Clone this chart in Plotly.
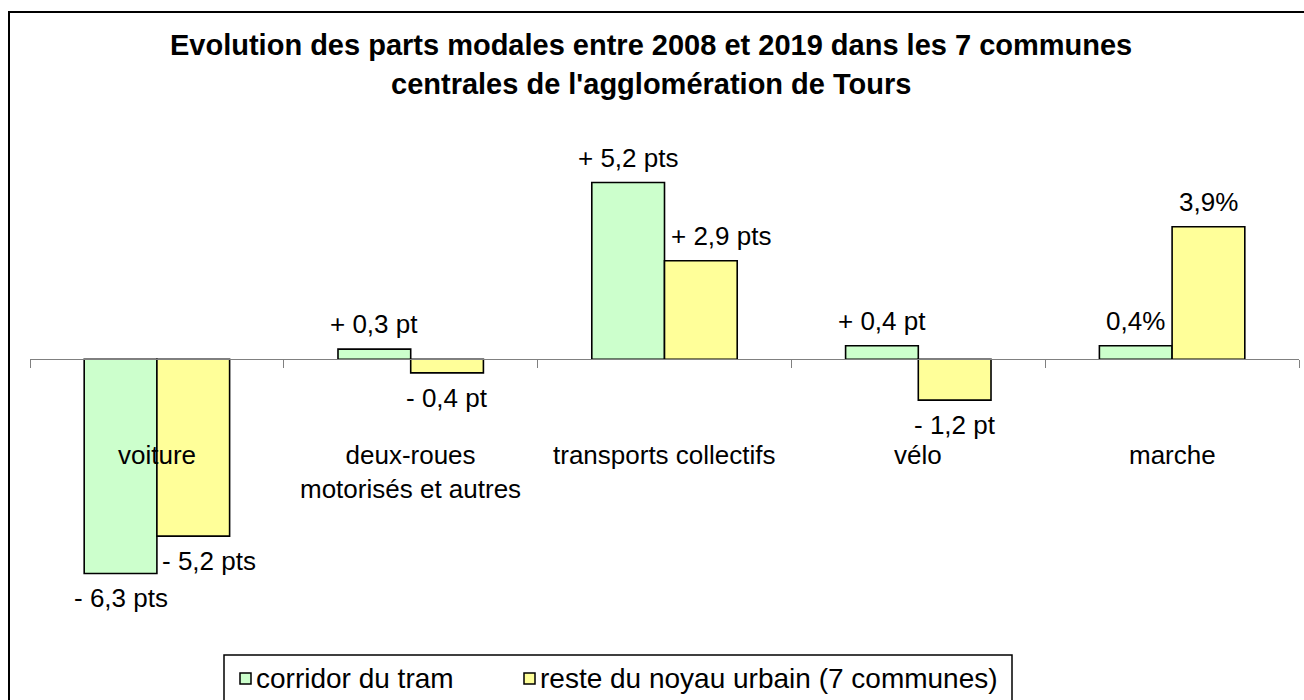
import plotly.graph_objects as go

# Modal share change 2008-2019, in percentage points
categories = ["voiture", "deux-roues<br>motorisés et autres", "transports collectifs", "vélo", "marche"]
series_names = ["corridor du tram", "reste du noyau urbain (7 communes)"]
tram_values = [-6.3, 0.3, 5.2, 0.4, 0.4]
reste_values = [-5.2, -0.4, 2.9, -1.2, 3.9]
tram_labels = ["- 6,3 pts", "+ 0,3 pt", "+ 5,2 pts", "+ 0,4 pt", "0,4%"]
reste_labels = ["- 5,2 pts", "- 0,4 pt", "+ 2,9 pts", "- 1,2 pt", "3,9%"]
title_lines = ["Evolution des parts modales entre 2008 et 2019 dans les 7 communes",
               "centrales de l'agglomération de Tours"]

FONT = "Liberation Sans, Arial, sans-serif"
COLORS = ["#CCFFCC", "#FFFF99"]
W, H = 1304, 700
M_L, M_R, M_T, M_B = 30, 5, 130, 80
Y_MIN, Y_MAX = -7.668, 6.744
BARGAP = 0.427


def px_x(px):
    """pixel column -> paper x"""
    return (px - M_L) / (W - M_L - M_R)


def px_y(py):
    """pixel row -> paper y"""
    return (H - M_B - py) / (H - M_T - M_B)


x_idx = list(range(len(categories)))
fig = go.Figure()
for name, vals, col in zip(series_names, [tram_values, reste_values], COLORS):
    fig.add_trace(go.Bar(
        x=x_idx, y=vals, name=name,
        marker=dict(color=col, line=dict(color="black", width=1.6)),
        hoverinfo="skip", showlegend=False,
    ))

# value labels: above positive bars, below negative ones
half = (1 - BARGAP) / 4
label_nudge = {(1, 0): 16, (1, 2): 20}
annotations = []
for s, (vals, labs) in enumerate([(tram_values, tram_labels), (reste_values, reste_labels)]):
    for i, (v, t) in enumerate(zip(vals, labs)):
        annotations.append(dict(
            x=i + (-half if s == 0 else half), y=v, xref="x", yref="y",
            text=t, showarrow=False,
            yshift=25 if v >= 0 else -25,
            xshift=label_nudge.get((s, i), 0),
            font=dict(family=FONT, size=26, color="black"),
        ))

# category names sit below the zero line
for i, c in enumerate(categories):
    annotations.append(dict(
        x=i, y=-2.31, xref="x", yref="y", yanchor="top",
        text=c, showarrow=False,
        font=dict(family=FONT, size=26, color="black"),
    ))

# two-line bold title
for line, py in zip(title_lines, [45, 84]):
    annotations.append(dict(
        x=px_x(651), y=px_y(py), xref="paper", yref="paper",
        xanchor="center", yanchor="middle", text=f"<b>{line}</b>",
        showarrow=False, font=dict(family=FONT, size=29, color="black"),
    ))

# legend row inside a framed box
LEG_TOP, LEG_Y = 655, 678
shapes = [
    # outer chart frame
    dict(type="rect", xref="paper", yref="paper",
         x0=px_x(9), x1=px_x(W + 10), y0=px_y(H + 10), y1=px_y(12),
         line=dict(color="black", width=2), fillcolor="rgba(0,0,0,0)", layer="below"),
    # legend frame
    dict(type="rect", xref="paper", yref="paper",
         x0=px_x(224), x1=px_x(1012), y0=px_y(H + 10), y1=px_y(LEG_TOP),
         line=dict(color="black", width=1.5), fillcolor="white", layer="below"),
]
legend_swatch_x = [240, 524]
for name, col, sx in zip(series_names, COLORS, legend_swatch_x):
    shapes.append(dict(
        type="rect", xref="paper", yref="paper",
        x0=px_x(sx), x1=px_x(sx + 11), y0=px_y(LEG_Y + 6), y1=px_y(LEG_Y - 5),
        line=dict(color="black", width=1.5), fillcolor=col,
    ))
    annotations.append(dict(
        x=px_x(sx + 14), y=px_y(LEG_Y), xref="paper", yref="paper",
        xanchor="left", yanchor="middle", text=name, showarrow=False,
        font=dict(family=FONT, size=28, color="black"),
    ))

zero_pos = (0 - Y_MIN) / (Y_MAX - Y_MIN)

fig.update_layout(
    width=W, height=H,
    margin=dict(l=M_L, r=M_R, t=M_T, b=M_B),
    paper_bgcolor="white", plot_bgcolor="white",
    barmode="group", bargap=BARGAP, bargroupgap=0,
    xaxis=dict(
        range=[-0.5, len(categories) - 0.5],
        showgrid=False, zeroline=False,
        showline=True, linecolor="#808080", linewidth=1,
        anchor="free", position=zero_pos,
        ticks="outside", ticklen=8, tickcolor="#808080", tickwidth=1,
        tickvals=[i - 0.5 for i in range(len(categories) + 1)],
        showticklabels=False, fixedrange=True,
    ),
    yaxis=dict(range=[Y_MIN, Y_MAX], visible=False, fixedrange=True),
    showlegend=False,
    annotations=annotations,
    shapes=shapes,
)

fig.write_html("out.html", config={"displayModeBar": False})
